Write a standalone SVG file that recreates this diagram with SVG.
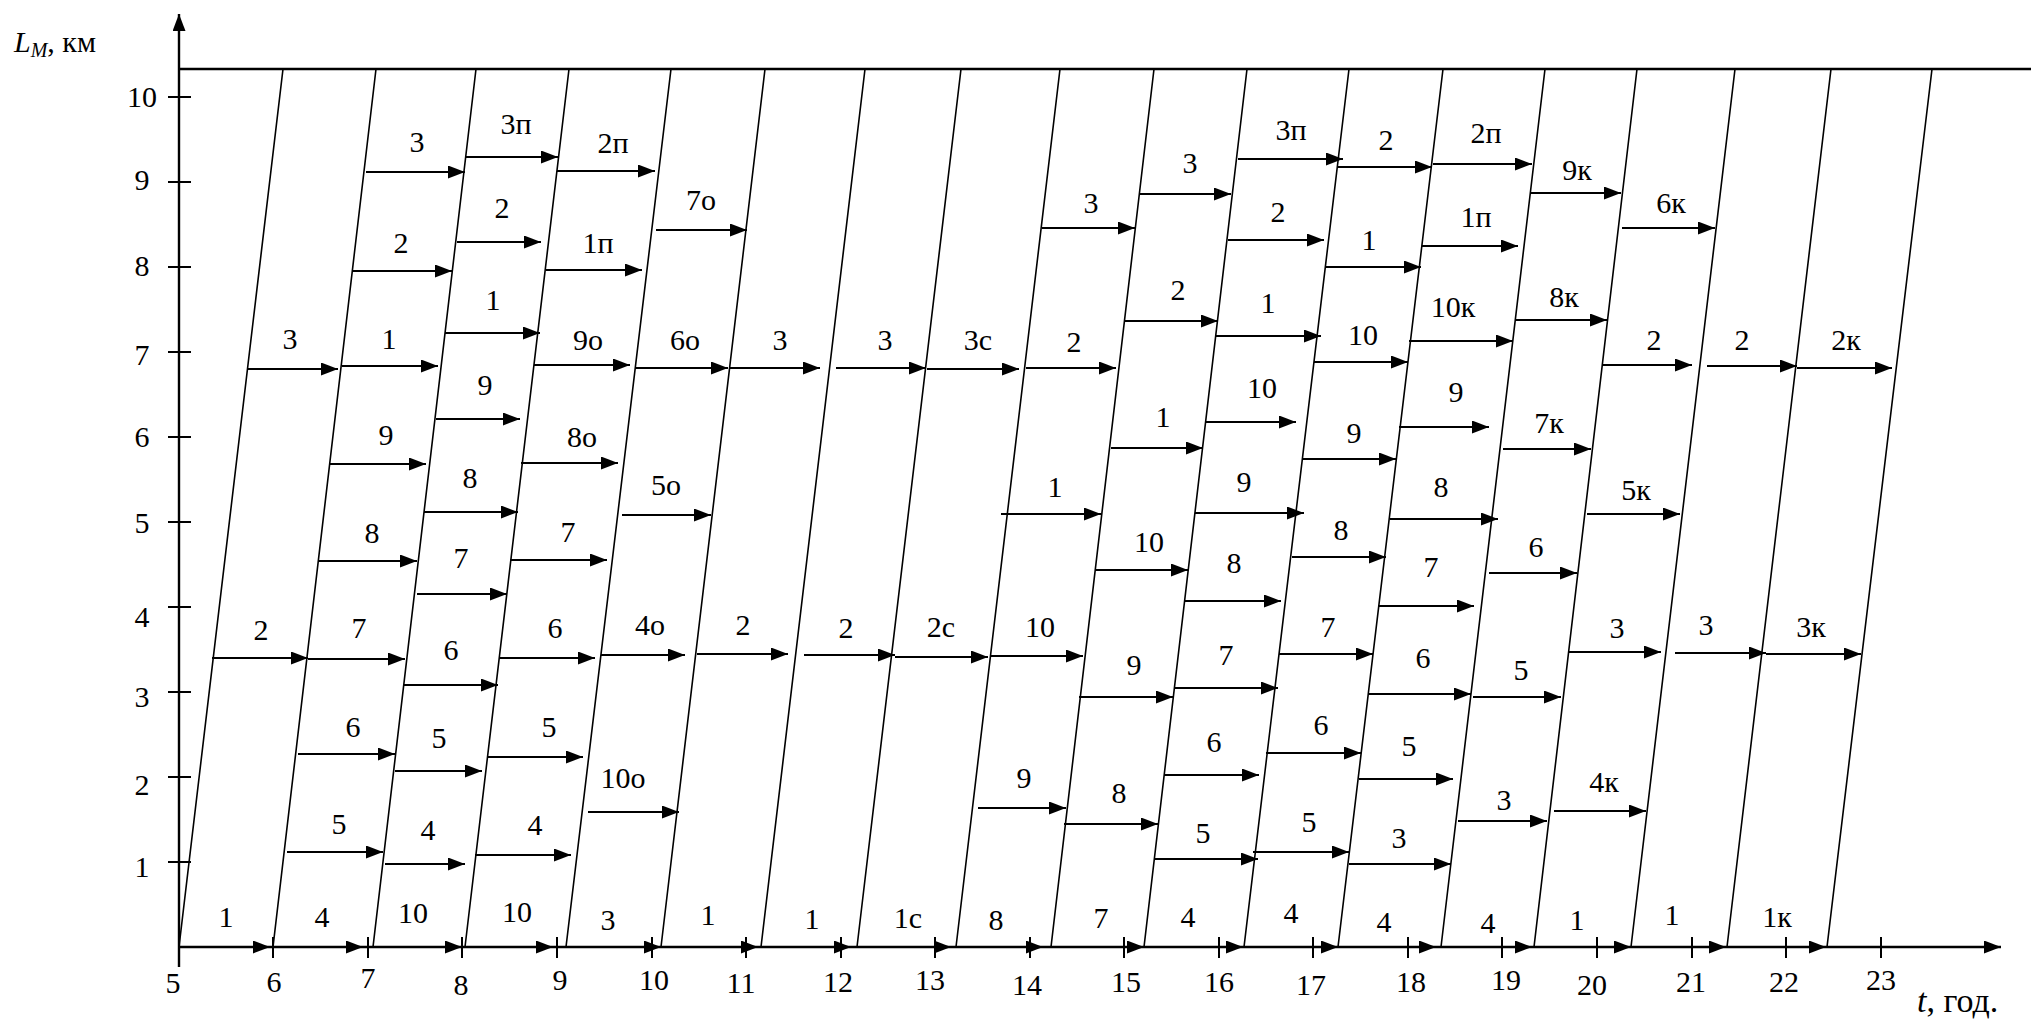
<svg xmlns="http://www.w3.org/2000/svg" width="2031" height="1021" viewBox="0 0 2031 1021">
<style>
text{font-family:"Liberation Serif","Times New Roman",serif;font-size:30px;fill:#000;text-anchor:middle}
.ax{stroke:#000;stroke-width:2.4;fill:none}
.sl{stroke:#000;stroke-width:1.6;fill:none}
.ar{stroke:#000;stroke-width:2;fill:none;marker-end:url(#ah)}
.tk{stroke:#000;stroke-width:2;fill:none}
</style>
<defs>
<marker id="ah" markerUnits="userSpaceOnUse" markerWidth="17" markerHeight="13" refX="17" refY="6.5" orient="auto"><path d="M0,0L17,6.5L0,13z" fill="#000"/></marker>
</defs>
<rect width="2031" height="1021" fill="#fff"/>
<g id="axes">
<path class="ax" d="M179,967V14" marker-end="url(#ah)"/>
<path class="ax" d="M179,947H2001" marker-end="url(#ah)"/>
<path class="ax" d="M179,69H2031"/>
<path class="tk" d="M168,97H191M168,182H191M168,267H191M168,352H191M168,437H191M168,522H191M168,607H191M168,692H191M168,777H191M168,862H191"/>
<path class="tk" d="M273,937V958M368,937V958M462,937V958M557,937V958M652,937V958M746,937V958M841,937V958M935,937V958M1030,937V958M1124,937V958M1219,937V958M1313,937V958M1408,937V958M1502,937V958M1597,937V958M1692,937V958M1786,937V958M1881,937V958"/>
</g>
<g id="axis-labels">
<text x="142" y="107">10</text><text x="142" y="190">9</text><text x="142" y="276">8</text><text x="142" y="365">7</text><text x="142" y="447">6</text><text x="142" y="533">5</text><text x="142" y="627">4</text><text x="142" y="707">3</text><text x="142" y="795">2</text><text x="142" y="877">1</text>
<text x="173" y="993">5</text><text x="274" y="992">6</text><text x="368" y="988">7</text><text x="461" y="995">8</text><text x="560" y="990">9</text><text x="654" y="990">10</text><text x="741" y="993">11</text><text x="838" y="992">12</text><text x="930" y="990">13</text><text x="1027" y="995">14</text><text x="1126" y="992">15</text><text x="1219" y="992">16</text><text x="1311" y="995">17</text><text x="1411" y="992">18</text><text x="1506" y="990">19</text><text x="1592" y="995">20</text><text x="1691" y="992">21</text><text x="1784" y="992">22</text><text x="1881" y="990">23</text>
<text x="14" y="52" style="text-anchor:start"><tspan font-style="italic">L</tspan><tspan font-style="italic" font-size="20" dy="5">M</tspan><tspan dy="-5">, км</tspan></text>
<text x="1917" y="1012" style="text-anchor:start;font-size:34px"><tspan font-style="italic">t</tspan>, год.</text>
</g>
<g id="slanted-lines">
<path class="sl" d="M179,947L283,69M273,947L376,69M373,947L476,69M465,947L569,69M566,947L671,69M661,947L765,69M761,947L865,69M857,947L961,69M956,947L1060,69M1051,947L1154,69M1144,947L1247,69M1244,947L1349,69M1338,947L1443,69M1441,947L1545,69M1534,947L1637,69M1631,947L1735,69M1727,947L1831,69M1827,947L1932,69"/>
</g>
<g id="connectors">
<path class="ar" d="M247,369H338"/><path class="ar" d="M212,658H308"/><path class="ar" d="M179,947H270"/>
<path class="ar" d="M366,172H465"/><path class="ar" d="M353,271H452"/><path class="ar" d="M342,366H438"/><path class="ar" d="M330,464H426"/><path class="ar" d="M319,561H417"/><path class="ar" d="M308,659H405"/><path class="ar" d="M298,754H395"/><path class="ar" d="M287,852H383"/><path class="ar" d="M273,947H363"/>
<path class="ar" d="M466,157H558"/><path class="ar" d="M457,242H541"/><path class="ar" d="M445,333H540"/><path class="ar" d="M436,419H520"/><path class="ar" d="M424,512H518"/><path class="ar" d="M417,594H507"/><path class="ar" d="M404,685H498"/><path class="ar" d="M395,771H482"/><path class="ar" d="M385,864H465"/><path class="ar" d="M373,947H462"/>
<path class="ar" d="M557,171H655"/><path class="ar" d="M546,270H642"/><path class="ar" d="M534,365H630"/><path class="ar" d="M521,463H618"/><path class="ar" d="M510,560H607"/><path class="ar" d="M499,658H595"/><path class="ar" d="M488,757H583"/><path class="ar" d="M475,855H571"/><path class="ar" d="M465,947H553"/>
<path class="ar" d="M656,230H747"/><path class="ar" d="M636,368H728"/><path class="ar" d="M622,515H711"/><path class="ar" d="M601,655H685"/><path class="ar" d="M588,812H679"/><path class="ar" d="M566,947H661"/>
<path class="ar" d="M730,368H820"/><path class="ar" d="M697,654H788"/><path class="ar" d="M661,947H758"/>
<path class="ar" d="M836,368H926"/><path class="ar" d="M804,655H895"/><path class="ar" d="M761,947H851"/>
<path class="ar" d="M927,369H1019"/><path class="ar" d="M895,657H988"/><path class="ar" d="M857,947H951"/>
<path class="ar" d="M1042,228H1135"/><path class="ar" d="M1026,368H1116"/><path class="ar" d="M1001,514H1101"/><path class="ar" d="M990,656H1083"/><path class="ar" d="M978,808H1066"/><path class="ar" d="M956,947H1043"/>
<path class="ar" d="M1139,194H1231"/><path class="ar" d="M1124,321H1218"/><path class="ar" d="M1111,448H1203"/><path class="ar" d="M1096,570H1188"/><path class="ar" d="M1079,697H1173"/><path class="ar" d="M1064,824H1158"/><path class="ar" d="M1051,947H1144"/>
<path class="ar" d="M1238,159H1343"/><path class="ar" d="M1228,240H1324"/><path class="ar" d="M1216,336H1321"/><path class="ar" d="M1206,422H1296"/><path class="ar" d="M1195,513H1304"/><path class="ar" d="M1185,601H1281"/><path class="ar" d="M1174,688H1278"/><path class="ar" d="M1164,775H1259"/><path class="ar" d="M1154,859H1258"/><path class="ar" d="M1144,947H1243"/>
<path class="ar" d="M1338,167H1432"/><path class="ar" d="M1325,267H1421"/><path class="ar" d="M1314,362H1408"/><path class="ar" d="M1303,459H1396"/><path class="ar" d="M1292,557H1386"/><path class="ar" d="M1279,654H1373"/><path class="ar" d="M1266,753H1361"/><path class="ar" d="M1253,852H1349"/><path class="ar" d="M1244,947H1338"/>
<path class="ar" d="M1433,164H1532"/><path class="ar" d="M1422,246H1518"/><path class="ar" d="M1409,341H1513"/><path class="ar" d="M1399,427H1489"/><path class="ar" d="M1390,519H1498"/><path class="ar" d="M1378,606H1474"/><path class="ar" d="M1369,694H1471"/><path class="ar" d="M1359,779H1453"/><path class="ar" d="M1349,864H1451"/><path class="ar" d="M1338,947H1436"/>
<path class="ar" d="M1531,193H1621"/><path class="ar" d="M1516,320H1607"/><path class="ar" d="M1503,449H1591"/><path class="ar" d="M1489,573H1577"/><path class="ar" d="M1473,697H1561"/><path class="ar" d="M1458,821H1547"/><path class="ar" d="M1441,947H1532"/>
<path class="ar" d="M1622,228H1715"/><path class="ar" d="M1602,365H1692"/><path class="ar" d="M1587,514H1680"/><path class="ar" d="M1569,652H1661"/><path class="ar" d="M1554,811H1646"/><path class="ar" d="M1534,947H1631"/>
<path class="ar" d="M1707,366H1797"/><path class="ar" d="M1675,653H1766"/><path class="ar" d="M1631,947H1726"/>
<path class="ar" d="M1797,368H1892"/><path class="ar" d="M1766,654H1861"/><path class="ar" d="M1727,947H1826"/>
</g>
<g id="labels">
<text x="290" y="349">3</text><text x="261" y="640">2</text><text x="226" y="927">1</text>
<text x="417" y="152">3</text><text x="401" y="253">2</text><text x="389" y="349">1</text><text x="386" y="445">9</text><text x="372" y="543">8</text><text x="359" y="638">7</text><text x="353" y="737">6</text><text x="339" y="834">5</text><text x="322" y="927">4</text>
<text x="516" y="134">3п</text><text x="502" y="218">2</text><text x="493" y="310">1</text><text x="485" y="395">9</text><text x="470" y="488">8</text><text x="461" y="568">7</text><text x="451" y="660">6</text><text x="439" y="748">5</text><text x="428" y="840">4</text><text x="413" y="923">10</text>
<text x="613" y="153">2п</text><text x="598" y="253">1п</text><text x="588" y="350">9о</text><text x="582" y="447">8о</text><text x="568" y="542">7</text><text x="555" y="638">6</text><text x="549" y="737">5</text><text x="535" y="835">4</text><text x="517" y="922">10</text>
<text x="701" y="210">7о</text><text x="685" y="350">6о</text><text x="666" y="495">5о</text><text x="650" y="635">4о</text><text x="623" y="788">10о</text><text x="608" y="930">3</text>
<text x="780" y="350">3</text><text x="743" y="635">2</text><text x="708" y="925">1</text>
<text x="885" y="350">3</text><text x="846" y="638">2</text><text x="812" y="929">1</text>
<text x="978" y="350">3с</text><text x="941" y="637">2с</text><text x="908" y="928">1с</text>
<text x="1091" y="213">3</text><text x="1074" y="352">2</text><text x="1055" y="497">1</text><text x="1040" y="637">10</text><text x="1024" y="788">9</text><text x="996" y="930">8</text>
<text x="1190" y="173">3</text><text x="1178" y="300">2</text><text x="1163" y="427">1</text><text x="1149" y="552">10</text><text x="1134" y="675">9</text><text x="1119" y="803">8</text><text x="1101" y="928">7</text>
<text x="1291" y="140">3п</text><text x="1278" y="222">2</text><text x="1268" y="313">1</text><text x="1262" y="398">10</text><text x="1244" y="492">9</text><text x="1234" y="573">8</text><text x="1226" y="665">7</text><text x="1214" y="752">6</text><text x="1203" y="843">5</text><text x="1188" y="927">4</text>
<text x="1386" y="150">2</text><text x="1369" y="250">1</text><text x="1363" y="345">10</text><text x="1354" y="443">9</text><text x="1341" y="540">8</text><text x="1328" y="637">7</text><text x="1321" y="735">6</text><text x="1309" y="832">5</text><text x="1291" y="923">4</text>
<text x="1486" y="143">2п</text><text x="1476" y="227">1п</text><text x="1453" y="317">10к</text><text x="1456" y="402">9</text><text x="1441" y="497">8</text><text x="1431" y="577">7</text><text x="1423" y="668">6</text><text x="1409" y="756">5</text><text x="1399" y="848">3</text><text x="1384" y="932">4</text>
<text x="1577" y="180">9к</text><text x="1564" y="307">8к</text><text x="1549" y="433">7к</text><text x="1536" y="557">6</text><text x="1521" y="680">5</text><text x="1504" y="810">3</text><text x="1488" y="933">4</text>
<text x="1671" y="213">6к</text><text x="1654" y="350">2</text><text x="1636" y="500">5к</text><text x="1617" y="638">3</text><text x="1604" y="792">4к</text><text x="1577" y="930">1</text>
<text x="1742" y="350">2</text><text x="1706" y="635">3</text><text x="1672" y="925">1</text>
<text x="1846" y="350">2к</text><text x="1811" y="637">3к</text><text x="1777" y="927">1к</text>
</g>
</svg>
